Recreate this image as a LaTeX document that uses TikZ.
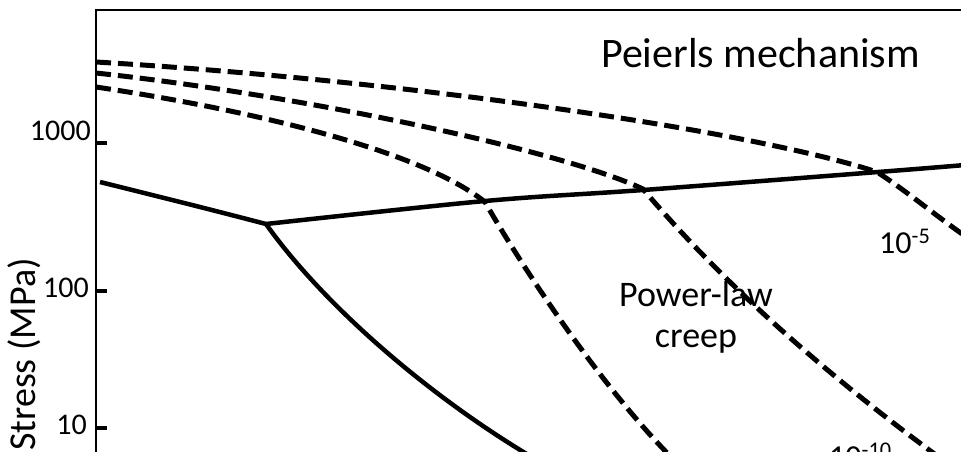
\documentclass[tikz,border=0pt]{standalone}
\usepackage{fontspec}
\setmainfont{Carlito}
\begin{document}
\begin{tikzpicture}[x=1pt,y=-1pt,
  axisline/.style={line width=2pt},
  tickline/.style={line width=4.5pt},
  solidc/.style={line width=4.5pt, line join=round},
  dashc/.style={line width=5pt, dash pattern=on 15pt off 7pt},
  ticklabel/.style={anchor=base east, inner sep=0pt, font=\fontsize{30}{36}\selectfont},
  biglabel/.style={inner sep=0pt, font=\fontsize{42}{50}\selectfont},
  midlabel/.style={inner sep=0pt, font=\fontsize{36}{41}\selectfont},
  ylabel/.style={inner sep=0pt, font=\fontsize{38}{44}\selectfont},
  ratelabel/.style={anchor=base west, inner sep=0pt, font=\fontsize{32}{38}\selectfont}]
\clip (0,0) rectangle (961,451);
\fill[white] (0,0) rectangle (961,451);
% axes
\draw[axisline] (96,470) -- (96,10) -- (970,10);
\draw[tickline] (96,143) -- (107,143);
\draw[tickline] (96,291) -- (107,291);
\draw[tickline] (96,428) -- (107,428);
\node[ticklabel] (t1000) at (91,140) {1000};
\node[ticklabel] (t100) at (89,297) {100};
\node[ticklabel] (t10) at (87,434) {10};
\node[ylabel, rotate=90, anchor=base west] (ylab) at (35,451) {Stress (MPa)};
% solid boundaries
\draw[solidc] plot[smooth, tension=0.6] coordinates {(100,182) (200,207) (266,224)};
\draw[solidc] plot[smooth, tension=0.6] coordinates {(266,224) (485,201) (643,190) (878,172) (965,165)};
\draw[solidc] (266,224) .. controls (320,300) and (420,390) .. (530,456);
% dashed strain-rate contours
\draw[dashc] (96,62) .. controls (400,80) and (750,130) .. (877,172)
             .. controls (905,190) and (935,215) .. (965,236);
\draw[dashc] (96,73) .. controls (300,95) and (560,150) .. (643,189)
             .. controls (720,280) and (820,370) .. (940,458);
\draw[dashc] (96,87) .. controls (250,110) and (420,150) .. (485,202)
             .. controls (515,255) and (595,380) .. (672,458);
% labels
\node[biglabel, anchor=base west] (peierls) at (601,67) {Peierls mechanism};
\node[midlabel, align=center, anchor=base] (plc) at (696,347) {Power-law\\creep};
\node[ratelabel] (r5) at (879,253) {10\textsuperscript{-5}};
\node[ratelabel] (r10) at (829,467) {10\textsuperscript{-10}};
\end{tikzpicture}
\end{document}
